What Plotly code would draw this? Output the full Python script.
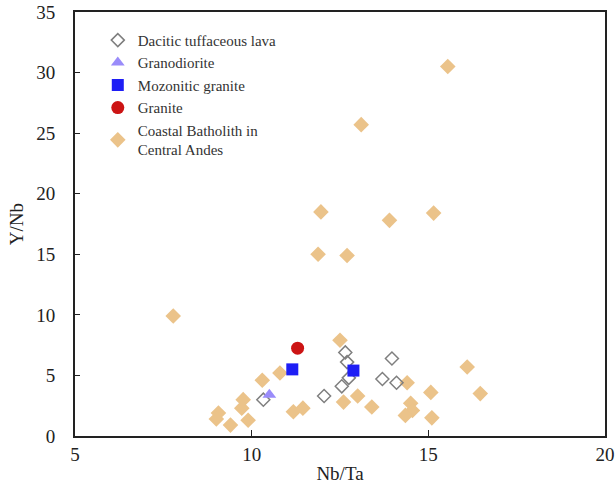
import plotly.graph_objects as go

# Dacitic tuffaceous lava
dac_x = [10.33, 12.05, 12.65, 12.7, 12.75, 12.55, 13.97, 13.7, 14.1]
dac_y = [3.0, 3.3, 6.9, 6.1, 4.8, 4.1, 6.4, 4.7, 4.4]
# Granodiorite
gd_x = [10.5]
gd_y = [3.4]
# Mozonitic granite
mz_x = [11.15, 12.88]
mz_y = [5.5, 5.4]
# Granite
gr_x = [11.3]
gr_y = [7.25]
# Coastal Batholith in Central Andes
cb_x = [7.78, 15.55, 13.1, 13.9, 15.15, 12.7, 11.96, 11.88, 16.1, 16.47,
        15.07, 15.1, 12.5, 10.8, 10.3, 9.76, 9.72, 9.06, 9.0, 9.4,
        9.9, 11.18, 11.45, 12.6, 13.0, 13.4, 14.4, 14.5, 14.55, 14.35]
cb_y = [9.9, 30.5, 25.7, 17.8, 18.4, 14.9, 18.5, 15.0, 5.7, 3.5,
        3.6, 1.5, 7.9, 5.2, 4.6, 3.0, 2.3, 1.9, 1.4, 0.9,
        1.3, 2.0, 2.3, 2.8, 3.3, 2.4, 4.4, 2.7, 2.1, 1.7]

x_ticks = [5, 10, 15, 20]
y_ticks = [0, 5, 10, 15, 20, 25, 30, 35]

FONT = "Liberation Serif, Times New Roman, DejaVu Serif, serif"
fig = go.Figure()

fig.add_trace(go.Scatter(x=cb_x, y=cb_y, mode="markers", name="Coastal Batholith in<br>Central Andes",
                         legendrank=5, legendgroup="e",
                         marker=dict(symbol="diamond", size=12, color="#EBC38A", line=dict(width=0))))
fig.add_trace(go.Scatter(x=dac_x, y=dac_y, mode="markers", name="Dacitic tuffaceous lava",
                         legendrank=1, legendgroup="a",
                         marker=dict(symbol="diamond-open", size=10, color="#7f7f7f", line=dict(width=1.5, color="#7f7f7f"))))
fig.add_trace(go.Scatter(x=gd_x, y=gd_y, mode="markers", name="Granodiorite",
                         legendrank=2, legendgroup="b",
                         marker=dict(symbol="triangle-up", size=12, color="#9A8CFA", line=dict(width=0))))
fig.add_trace(go.Scatter(x=mz_x, y=mz_y, mode="markers", name="Mozonitic granite",
                         legendrank=3, legendgroup="c",
                         marker=dict(symbol="square", size=12, color="#1E1EF5", line=dict(width=0))))
fig.add_trace(go.Scatter(x=gr_x, y=gr_y, mode="markers", name="Granite",
                         legendrank=4, legendgroup="d",
                         marker=dict(symbol="circle", size=13, color="#CC1414", line=dict(width=0))))

fig.update_layout(
    width=615, height=489,
    margin=dict(l=75, r=10, t=12, b=53),
    paper_bgcolor="white", plot_bgcolor="white",
    font=dict(family=FONT, color="#222222"),
    legend=dict(x=0.043, y=0.972, xanchor="left", yanchor="top",
                font=dict(family=FONT, size=15, color="#333333"),
                tracegroupgap=0, bgcolor="rgba(0,0,0,0)"),
    showlegend=True,
)
fig.update_xaxes(range=[5, 20], tickvals=x_ticks, ticks="inside", ticklen=6, tickwidth=1.2,
                 tickcolor="#222", showline=True, linewidth=2, linecolor="#222", mirror=True,
                 showgrid=False, zeroline=False, tickfont=dict(size=19, family=FONT),
                 ticklabelstandoff=0, automargin=False,
                 title=dict(text="Nb/Ta", font=dict(size=19, family=FONT), standoff=3))
fig.update_yaxes(range=[0, 35], tickvals=y_ticks, ticks="inside", ticklen=5, tickwidth=1.2,
                 tickcolor="#222", showline=True, linewidth=2, linecolor="#222", mirror=True,
                 showgrid=False, zeroline=False, tickfont=dict(size=19, family=FONT),
                 ticklabelstandoff=14, automargin=False,
                 title=dict(text="Y/Nb", font=dict(size=19, family=FONT), standoff=8))

fig.write_html("out.html")
